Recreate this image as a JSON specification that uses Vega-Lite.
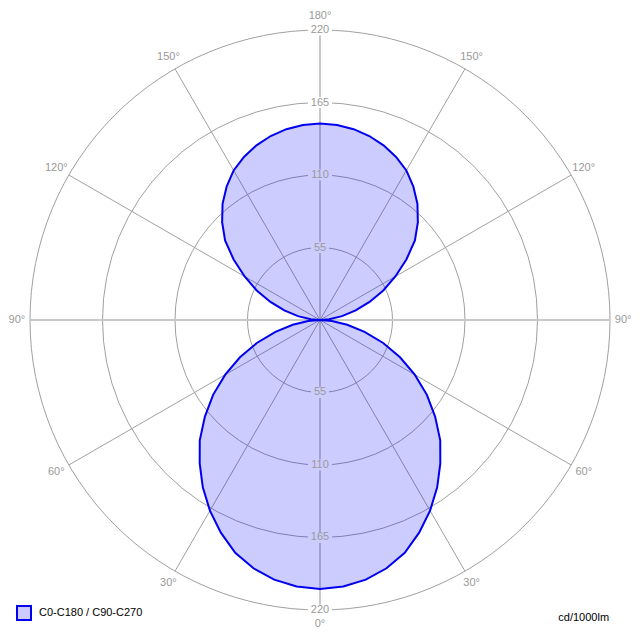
{
  "$schema": "https://vega.github.io/schema/vega-lite/v6.json",
  "width": 640,
  "height": 640,
  "autosize": "none",
  "padding": 0,
  "background": "white",
  "config": {"view": {"stroke": null}},
  "datasets": {
    "rings": [{"r": 55}, {"r": 110}, {"r": 165}, {"r": 220}],
    "axes": [{"a": 0, "cd": 220}, {"a": 90, "cd": 220}],
    "spokes": [{"a": 30, "cd": 220}, {"a": 60, "cd": 220}, {"a": 120, "cd": 220}, {"a": 150, "cd": 220}],
    "ringLabels": [
      {"a": 180, "cd": 55, "label": "55"}, {"a": 180, "cd": 110, "label": "110"},
      {"a": 180, "cd": 165, "label": "165"}, {"a": 180, "cd": 220, "label": "220"},
      {"a": 0, "cd": 55, "label": "55"}, {"a": 0, "cd": 110, "label": "110"},
      {"a": 0, "cd": 165, "label": "165"}, {"a": 0, "cd": 220, "label": "220"}
    ],
    "degrees": [
      {"a": 0, "cd": 231, "label": "0°"}, {"a": 30, "cd": 230, "label": "30°"},
      {"a": 60, "cd": 231, "label": "60°"}, {"a": 90, "cd": 230, "label": "90°"},
      {"a": 120, "cd": 231, "label": "120°"}, {"a": 150, "cd": 230, "label": "150°"},
      {"a": 180, "cd": 231, "label": "180°"}, {"a": -30, "cd": 230, "label": "30°"},
      {"a": -60, "cd": 231, "label": "60°"}, {"a": -90, "cd": 230, "label": "90°"},
      {"a": -120, "cd": 231, "label": "120°"}, {"a": -150, "cd": 230, "label": "150°"}
    ],
    "curve": [
      {"a": -90, "cd": 0}, {"a": -85, "cd": 9}, {"a": -80, "cd": 21}, {"a": -75, "cd": 35},
      {"a": -70, "cd": 51}, {"a": -65, "cd": 67}, {"a": -60, "cd": 83}, {"a": -55, "cd": 99},
      {"a": -50, "cd": 114}, {"a": -45, "cd": 129}, {"a": -40, "cd": 142}, {"a": -35, "cd": 155},
      {"a": -30, "cd": 167}, {"a": -25, "cd": 178}, {"a": -20, "cd": 188}, {"a": -15, "cd": 195},
      {"a": -10, "cd": 200}, {"a": -5, "cd": 203}, {"a": 0, "cd": 204}, {"a": 5, "cd": 203},
      {"a": 10, "cd": 200}, {"a": 15, "cd": 195}, {"a": 20, "cd": 188}, {"a": 25, "cd": 178},
      {"a": 30, "cd": 167}, {"a": 35, "cd": 155}, {"a": 40, "cd": 142}, {"a": 45, "cd": 129},
      {"a": 50, "cd": 114}, {"a": 55, "cd": 99}, {"a": 60, "cd": 83}, {"a": 65, "cd": 67},
      {"a": 70, "cd": 51}, {"a": 75, "cd": 35}, {"a": 80, "cd": 21}, {"a": 85, "cd": 9},
      {"a": 90, "cd": 0}, {"a": 95, "cd": 7}, {"a": 100, "cd": 17}, {"a": 105, "cd": 28},
      {"a": 110, "cd": 40}, {"a": 115, "cd": 53}, {"a": 120, "cd": 66}, {"a": 125, "cd": 80},
      {"a": 130, "cd": 94}, {"a": 135, "cd": 105}, {"a": 140, "cd": 115}, {"a": 145, "cd": 123.5},
      {"a": 150, "cd": 131}, {"a": 155, "cd": 136.5}, {"a": 160, "cd": 141}, {"a": 165, "cd": 144.5},
      {"a": 170, "cd": 147}, {"a": 175, "cd": 148.5}, {"a": 180, "cd": 149}, {"a": 185, "cd": 148.5},
      {"a": 190, "cd": 147}, {"a": 195, "cd": 144.5}, {"a": 200, "cd": 141}, {"a": 205, "cd": 136.5},
      {"a": 210, "cd": 131}, {"a": 215, "cd": 123.5}, {"a": 220, "cd": 115}, {"a": 225, "cd": 105},
      {"a": 230, "cd": 94}, {"a": 235, "cd": 80}, {"a": 240, "cd": 66}, {"a": 245, "cd": 53},
      {"a": 250, "cd": 40}, {"a": 255, "cd": 28}, {"a": 260, "cd": 17}, {"a": 265, "cd": 7},
      {"a": 270, "cd": 0}
    ]
  },
  "layer": [
    {
      "data": {"name": "rings"},
      "mark": {"type": "point", "shape": "circle", "filled": false, "stroke": "#a0a0a0", "strokeWidth": 1, "opacity": 1},
      "encoding": {
        "x": {"datum": 0, "type": "quantitative", "axis": null, "scale": {"domain": [-242.76, 242.76]}},
        "y": {"datum": 0, "type": "quantitative", "axis": null, "scale": {"domain": [-242.76, 242.76]}},
        "size": {"field": "r", "type": "quantitative", "legend": null, "scale": {"type": "pow", "exponent": 2, "zero": true, "domain": [0, 220], "range": [0, 336400]}}
      }
    },
    {
      "data": {"name": "axes"},
      "transform": [
        {"calculate": "datum.cd * sin(datum.a * PI / 180)", "as": "x"},
        {"calculate": "-datum.cd * cos(datum.a * PI / 180)", "as": "y"},
        {"calculate": "-datum.x", "as": "x2"},
        {"calculate": "-datum.y", "as": "y2"}
      ],
      "mark": {"type": "rule", "stroke": "#c8c8c8", "strokeWidth": 2},
      "encoding": {
        "x": {"field": "x", "type": "quantitative", "axis": null, "scale": {"domain": [-242.76, 242.76]}},
        "y": {"field": "y", "type": "quantitative", "axis": null, "scale": {"domain": [-242.76, 242.76]}},
        "x2": {"field": "x2"},
        "y2": {"field": "y2"}
      }
    },
    {
      "data": {"name": "spokes"},
      "transform": [
        {"calculate": "datum.cd * sin(datum.a * PI / 180)", "as": "x"},
        {"calculate": "-datum.cd * cos(datum.a * PI / 180)", "as": "y"},
        {"calculate": "-datum.x", "as": "x2"},
        {"calculate": "-datum.y", "as": "y2"}
      ],
      "mark": {"type": "rule", "stroke": "#a0a0a0", "strokeWidth": 1},
      "encoding": {
        "x": {"field": "x", "type": "quantitative", "axis": null, "scale": {"domain": [-242.76, 242.76]}},
        "y": {"field": "y", "type": "quantitative", "axis": null, "scale": {"domain": [-242.76, 242.76]}},
        "x2": {"field": "x2"},
        "y2": {"field": "y2"}
      }
    },
    {
      "data": {"name": "ringLabels"},
      "transform": [
        {"filter": "datum.cd >= 100"},
        {"calculate": "datum.cd * sin(datum.a * PI / 180)", "as": "x"},
        {"calculate": "-datum.cd * cos(datum.a * PI / 180)", "as": "y"}
      ],
      "mark": {"type": "point", "shape": "M-1,-0.45H1V0.45H-1Z", "size": 576, "filled": true, "fill": "white", "opacity": 1, "strokeWidth": 0},
      "encoding": {
        "x": {"field": "x", "type": "quantitative", "axis": null, "scale": {"domain": [-242.76, 242.76]}},
        "y": {"field": "y", "type": "quantitative", "axis": null, "scale": {"domain": [-242.76, 242.76]}}
      }
    },
    {
      "data": {"name": "ringLabels"},
      "transform": [
        {"filter": "datum.cd < 100"},
        {"calculate": "datum.cd * sin(datum.a * PI / 180)", "as": "x"},
        {"calculate": "-datum.cd * cos(datum.a * PI / 180)", "as": "y"}
      ],
      "mark": {"type": "point", "shape": "M-1,-0.6H1V0.6H-1Z", "size": 324, "filled": true, "fill": "white", "opacity": 1, "strokeWidth": 0},
      "encoding": {
        "x": {"field": "x", "type": "quantitative", "axis": null, "scale": {"domain": [-242.76, 242.76]}},
        "y": {"field": "y", "type": "quantitative", "axis": null, "scale": {"domain": [-242.76, 242.76]}}
      }
    },
    {
      "data": {"name": "curve"},
      "transform": [
        {"calculate": "datum.cd * sin(datum.a * PI / 180)", "as": "x"},
        {"calculate": "-datum.cd * cos(datum.a * PI / 180)", "as": "y"}
      ],
      "mark": {"type": "line", "interpolate": "linear-closed", "fill": "rgba(0,0,255,0.2)", "strokeWidth": 2},
      "encoding": {
        "x": {"field": "x", "type": "quantitative", "axis": null, "scale": {"domain": [-242.76, 242.76]}},
        "y": {"field": "y", "type": "quantitative", "axis": null, "scale": {"domain": [-242.76, 242.76]}},
        "order": {"field": "a", "type": "quantitative"},
        "color": {
          "datum": "C0-C180 / C90-C270",
          "type": "nominal",
          "scale": {"range": ["#0000ee"]},
          "legend": {
            "title": null,
            "orient": "bottom-left",
            "offset": 16,
            "padding": 0,
            "symbolType": "square",
            "symbolSize": 196,
            "symbolStrokeWidth": 2,
            "symbolStrokeColor": "#0000bb",
            "labelFont": "Liberation Sans",
            "labelFontSize": 11,
            "labelColor": "#000000",
            "labelOffset": 7
          }
        }
      }
    },
    {
      "data": {"name": "ringLabels"},
      "transform": [
        {"calculate": "datum.cd * sin(datum.a * PI / 180)", "as": "x"},
        {"calculate": "-datum.cd * cos(datum.a * PI / 180)", "as": "y"}
      ],
      "mark": {"type": "text", "font": "Liberation Sans", "fontSize": 11, "color": "#999999", "align": "center", "baseline": "middle"},
      "encoding": {
        "x": {"field": "x", "type": "quantitative", "axis": null, "scale": {"domain": [-242.76, 242.76]}},
        "y": {"field": "y", "type": "quantitative", "axis": null, "scale": {"domain": [-242.76, 242.76]}},
        "text": {"field": "label"}
      }
    },
    {
      "data": {"name": "degrees"},
      "transform": [
        {"calculate": "datum.cd * sin(datum.a * PI / 180)", "as": "x"},
        {"calculate": "-datum.cd * cos(datum.a * PI / 180)", "as": "y"}
      ],
      "mark": {"type": "text", "font": "Liberation Sans", "fontSize": 11, "color": "#999999", "align": "center", "baseline": "middle"},
      "encoding": {
        "x": {"field": "x", "type": "quantitative", "axis": null, "scale": {"domain": [-242.76, 242.76]}},
        "y": {"field": "y", "type": "quantitative", "axis": null, "scale": {"domain": [-242.76, 242.76]}},
        "text": {"field": "label"}
      }
    },
    {
      "data": {"values": [{"label": "cd/1000lm"}]},
      "mark": {"type": "text", "font": "Liberation Sans", "fontSize": 11, "color": "#000000", "align": "right", "baseline": "middle"},
      "encoding": {
        "x": {"datum": 219.3, "type": "quantitative", "axis": null, "scale": {"domain": [-242.76, 242.76]}},
        "y": {"datum": -225.7, "type": "quantitative", "axis": null, "scale": {"domain": [-242.76, 242.76]}},
        "text": {"field": "label"}
      }
    }
  ]
}
